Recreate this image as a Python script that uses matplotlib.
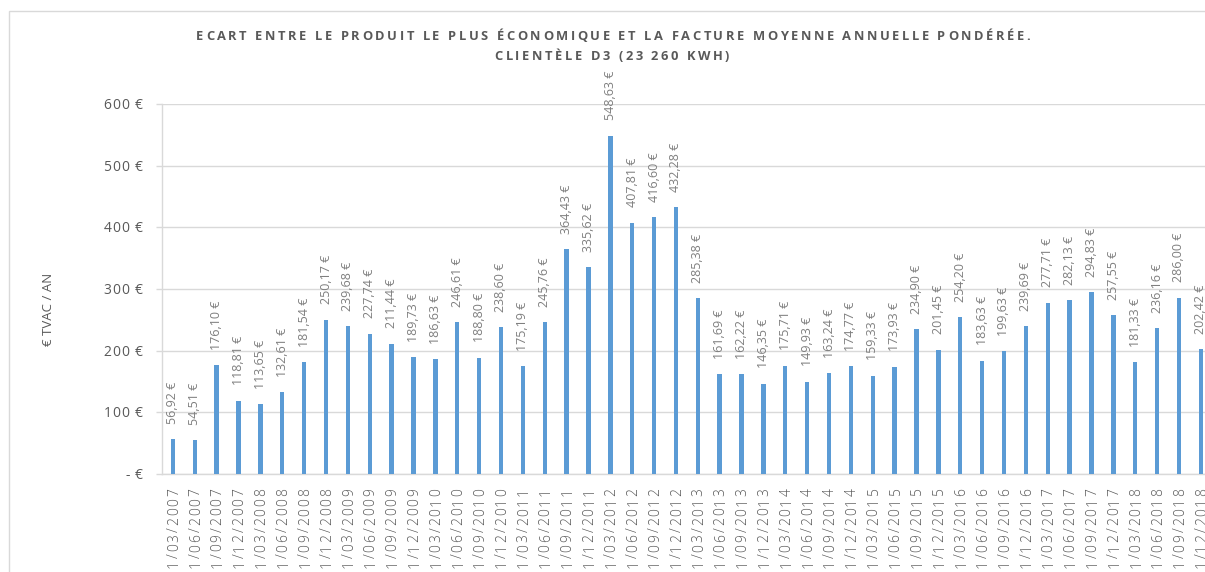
import matplotlib
matplotlib.use("Agg")
import matplotlib.pyplot as plt
from matplotlib import font_manager as fm
from matplotlib.font_manager import FontProperties
from matplotlib.patches import Rectangle
import numpy as np

# Quarterly observation dates
dates = [
    "1/03/2007", "1/06/2007", "1/09/2007", "1/12/2007",
    "1/03/2008", "1/06/2008", "1/09/2008", "1/12/2008",
    "1/03/2009", "1/06/2009", "1/09/2009", "1/12/2009",
    "1/03/2010", "1/06/2010", "1/09/2010", "1/12/2010",
    "1/03/2011", "1/06/2011", "1/09/2011", "1/12/2011",
    "1/03/2012", "1/06/2012", "1/09/2012", "1/12/2012",
    "1/03/2013", "1/06/2013", "1/09/2013", "1/12/2013",
    "1/03/2014", "1/06/2014", "1/09/2014", "1/12/2014",
    "1/03/2015", "1/06/2015", "1/09/2015", "1/12/2015",
    "1/03/2016", "1/06/2016", "1/09/2016", "1/12/2016",
    "1/03/2017", "1/06/2017", "1/09/2017", "1/12/2017",
    "1/03/2018", "1/06/2018", "1/09/2018", "1/12/2018",
]

# Gap (EUR incl. VAT per year) between cheapest product and weighted average bill
gap_eur = [
    56.92, 54.51, 176.10, 118.81,
    113.65, 132.61, 181.54, 250.17,
    239.68, 227.74, 211.44, 189.73,
    186.63, 246.61, 188.80, 238.60,
    175.19, 245.76, 364.43, 335.62,
    548.63, 407.81, 416.60, 432.28,
    285.38, 161.69, 162.22, 146.35,
    175.71, 149.93, 163.24, 174.77,
    159.33, 173.93, 234.90, 201.45,
    254.20, 183.63, 199.63, 239.69,
    277.71, 282.13, 294.83, 257.55,
    181.33, 236.16, 286.00, 202.42,
]

y_ticks = [0, 100, 200, 300, 400, 500, 600]
y_tick_labels = ["- €", "100 €", "200 €", "300 €", "400 €", "500 €", "600 €"]

title_lines = [
    "ECART ENTRE LE PRODUIT LE PLUS ÉCONOMIQUE ET LA FACTURE MOYENNE ANNUELLE PONDÉRÉE.",
    "CLIENTÈLE D3 (23 260 KWH)",
]
y_label = "€ TVAC / AN"

BAR = "#5B9BD5"
GRID = "#d9d9d9"
DARK = "#595959"
LIGHT = "#7f7f7f"
FONT = "Open Sans"

W, H = 1205, 572
fig = plt.figure(figsize=(W / 100, H / 100), dpi=100)
fig.patch.set_facecolor("white")
renderer = fig.canvas.get_renderer()


def weighted_font(size, lo, hi, fallback_weight):
    """Pick an installed normal-width face within a weight range."""
    prefs = ["Open Sans", "Noto Sans", "Lato", "Roboto", "Liberation Sans", "DejaVu Sans"]
    for fam in prefs:
        for f in fm.fontManager.ttflist:
            w = f.weight if isinstance(f.weight, int) else fm.weight_dict.get(f.weight, 400)
            narrow = any(k in f.fname.lower() for k in ("condensed", "narrow", "semicond"))
            if (f.name == fam and lo <= w <= hi and f.style == "normal"
                    and f.stretch == "normal" and not narrow):
                return FontProperties(fname=f.fname, size=size)
    return FontProperties(family=FONT, weight=fallback_weight, size=size)


def advances(s, fp):
    base = renderer.get_text_width_height_descent("||", fp, ismath=False)[0]
    return [renderer.get_text_width_height_descent("|" + c + "|", fp, ismath=False)[0] - base
            for c in s]


def cap_px(fp):
    return fp.get_size_in_points() * 100 / 72 * 0.714


def spaced_h(s, x, y_base, fp, track, ha="left", color=DARK):
    """Horizontal letter-spaced text; x, y_base in pixel coords from top-left."""
    adv = advances(s, fp)
    total = sum(adv) + track * (len(s) - 1)
    x0 = {"left": x, "center": x - total / 2, "right": x - total}[ha]
    for c, a in zip(s, adv):
        if c != " ":
            fig.text(x0 / W, 1 - y_base / H, c, fontproperties=fp, color=color,
                     ha="left", va="baseline")
        x0 += a + track


def spaced_v(s, xc, y_top, length, fp, color=DARK):
    """Letter-spaced text reading bottom-to-top, spanning `length` px down from y_top."""
    adv = advances(s, fp)
    track = (length - sum(adv)) / (len(s) - 1)
    y = y_top + length
    xb = xc + cap_px(fp) / 2
    for c, a in zip(s, adv):
        if c != " ":
            fig.text(xb / W, 1 - y / H, c, fontproperties=fp, color=color,
                     rotation=90, rotation_mode="anchor", ha="left", va="baseline")
        y -= a + track


# outer chart frame
fig.add_artist(Rectangle((9 / W, -0.1), 1.2, 1 - 11 / H + 0.1, transform=fig.transFigure,
                         fill=False, ec=GRID, lw=1))

# plot area
n = len(gap_eur)
step = 21.87
ax = fig.add_axes([162 / W, (H - 474) / H, n * step / W, 370 / H])
x = np.arange(n)
ax.bar(x, gap_eur, width=0.2, color=BAR, zorder=3)
ax.set_xlim(-0.5, n - 0.5)
ax.set_ylim(0, 600)
ax.set_yticks(y_ticks)
ax.yaxis.grid(True, color=GRID, lw=1)
ax.set_axisbelow(True)
for sp in ["top", "right"]:
    ax.spines[sp].set_visible(False)
for sp in ["left", "bottom"]:
    ax.spines[sp].set_color(GRID)
    ax.spines[sp].set_linewidth(1)
ax.tick_params(axis="y", length=4, width=1, color=GRID, labelleft=False)
ax.tick_params(axis="x", length=0, labelbottom=False)

# value labels above bars
for i, v in enumerate(gap_eur):
    ax.annotate(f"{v:.2f}".replace(".", ",") + " €", (i, v), xytext=(0, 11),
                textcoords="offset points", rotation=90, ha="center", va="bottom",
                fontsize=9, color=LIGHT, family=FONT)

fig.canvas.draw()


def to_img(xd, yd):
    px, py = ax.transData.transform((xd, yd))
    return px, H - py


# y tick labels
fp_y = FontProperties(family=FONT, size=10)
for t, lab in zip(y_ticks, y_tick_labels):
    _, yi = to_img(0, t)
    spaced_h(lab, 143, yi + cap_px(fp_y) / 2, fp_y, 1.0, ha="right", color=DARK)

# x tick labels (rotated, light weight)
fp_x = weighted_font(10, 200, 350, "light")
for i, d in enumerate(dates):
    xi, _ = to_img(i, 0)
    spaced_v(d, xi, 488, 80, fp_x, color=DARK)

# axis title
fig.text(48 / W, 1 - 309 / H, y_label, rotation=90, ha="center", va="center",
         fontsize=9.5, color=DARK, family=FONT)

# chart title, letter-spaced bold
fp_t = weighted_font(9.3, 600, 700, "bold")
adv_t = advances(title_lines[0], fp_t)
track_t = (834 - sum(adv_t)) / (len(title_lines[0]) - 1)
spaced_h(title_lines[0], 613, 40, fp_t, track_t, ha="center", color=DARK)
spaced_h(title_lines[1], 612, 60, fp_t, track_t, ha="center", color=DARK)

fig.savefig("out.png", dpi=100)
